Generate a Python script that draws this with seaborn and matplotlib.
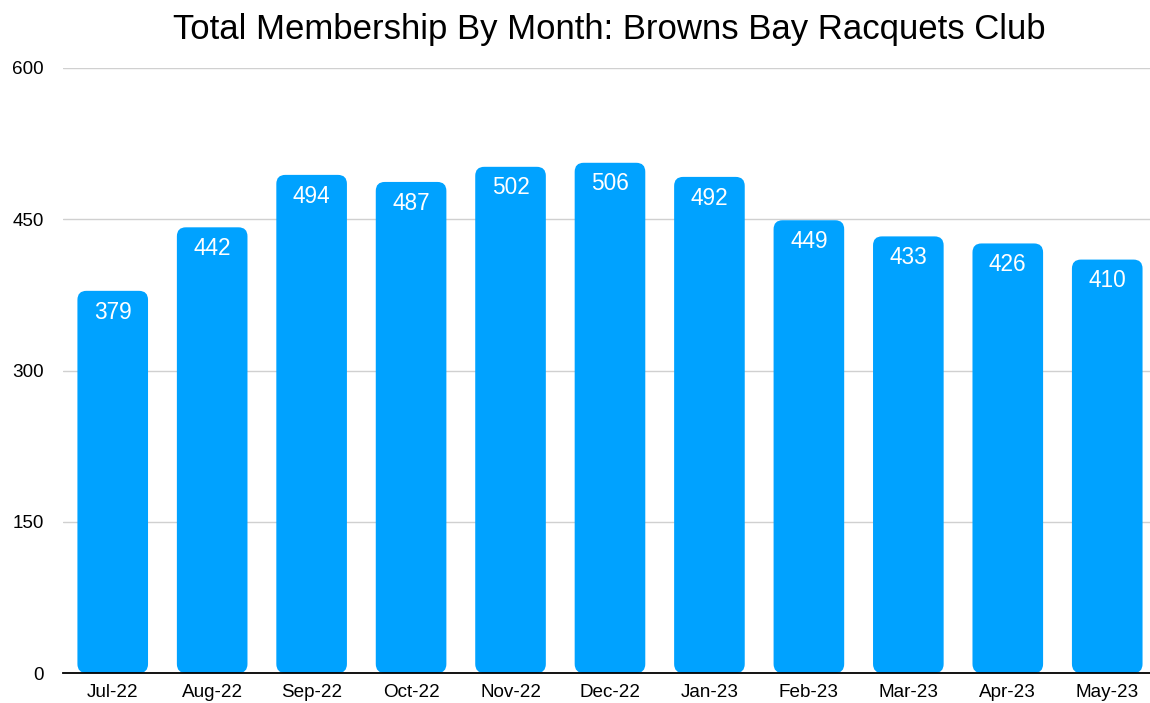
import matplotlib
matplotlib.use("Agg")
import matplotlib.pyplot as plt
import seaborn as sns
import pandas as pd
from matplotlib.patches import FancyBboxPatch

months = ["Jul-22", "Aug-22", "Sep-22", "Oct-22", "Nov-22", "Dec-22",
          "Jan-23", "Feb-23", "Mar-23", "Apr-23", "May-23"]
members = [379, 442, 494, 487, 502, 506, 492, 449, 433, 426, 410]
yticks = [0, 150, 300, 450, 600]
title = "Total Membership By Month: Browns Bay Racquets Club"

sns.set_theme(style="white")
plt.rcParams['font.family'] = ['Liberation Sans', 'DejaVu Sans']

df = pd.DataFrame({"month": months, "members": members})
color = "#00A2FF"

fig = plt.figure(figsize=(11.5, 7.03), dpi=100)
ax = fig.add_axes([63/1150, 30/703, 1087/1150, 605/703])
sns.barplot(data=df, x="month", y="members", color=color, width=0.71,
            saturation=1, ax=ax)

ax.set_xlim(-0.5, 10.43)
ax.set_ylim(0, 600)

# replace bars with rounded versions
px_x = 1087 / (10.93)
px_y = 605 / 600
r_px = 9
rx = r_px / px_x
aspect = (r_px / px_y) / rx
for p in list(ax.patches):
    x, y = p.get_x(), p.get_y()
    w, h = p.get_width(), p.get_height()
    fb = FancyBboxPatch((x, y), w, h,
                        boxstyle=f"round,pad=0,rounding_size={rx}",
                        mutation_aspect=aspect, facecolor=color,
                        edgecolor="none", zorder=3)
    p.remove()
    ax.add_patch(fb)
    ax.text(x + w / 2, y + h - 21, f"{int(round(h))}", ha="center",
            va="center", color="white", fontsize=16.3, zorder=4)

ax.set_yticks(yticks)
ax.set_yticklabels([str(t) for t in yticks])
ax.yaxis.grid(True, color="#d0d0d0", linewidth=1)
ax.set_axisbelow(True)
for s in ["top", "right", "left"]:
    ax.spines[s].set_visible(False)
ax.spines["bottom"].set_color("black")
ax.spines["bottom"].set_linewidth(1.3)
ax.spines["bottom"].set_zorder(5)
ax.tick_params(axis="both", length=0, labelsize=13.6, colors="black")
ax.tick_params(axis="y", pad=14)
ax.tick_params(axis="x", pad=8)
ax.set_xlabel("")
ax.set_ylabel("")
fig.text(609/1150, 1 - 29/703, title, ha="center", va="center",
         fontsize=25, color="black")

fig.savefig("out.png", dpi=100)
